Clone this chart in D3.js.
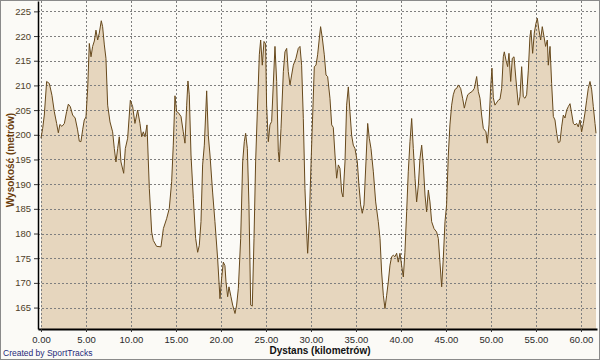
<!DOCTYPE html>
<html>
<head>
<meta charset="utf-8">
<script src="https://cdnjs.cloudflare.com/ajax/libs/d3/7.8.5/d3.min.js"></script>
<style>
    body { margin: 0; background: #fff; }
    svg { display: block; }
</style>
</head>
<body>
<div id="chart"></div>
<script>
'use strict';

// distance along the route (km)
var distances = [
    0, 0.19, 0.37, 0.63, 0.93, 1.22, 1.48, 1.74, 1.93, 2.1, 2.33, 2.6, 2.85, 3.04, 3.26, 3.52, 3.8, 4.07, 4.26, 4.44,
    4.63, 4.81, 5.0, 5.19, 5.37, 5.56, 5.74, 5.93, 6.11, 6.3, 6.48, 6.7, 6.85, 7.04, 7.22, 7.41, 7.67, 7.96, 8.15, 8.33,
    8.52, 8.7, 8.89, 9.19, 9.37, 9.63, 9.93, 10.19, 10.44, 10.74, 11.0, 11.19, 11.37, 11.56, 11.78, 12.04, 12.3, 12.48, 12.85, 13.33,
    13.6, 13.96, 14.26, 14.52, 14.7, 14.89, 15.07, 15.26, 15.56, 15.81, 16.0, 16.19, 16.33, 16.48, 16.67, 16.93, 17.19, 17.41, 17.59, 17.78,
    17.96, 18.15, 18.41, 18.59, 18.78, 19.07, 19.33, 19.63, 19.89, 20.07, 20.26, 20.44, 20.56, 20.74, 20.89, 21.11, 21.3, 21.56, 21.74, 21.93,
    22.19, 22.41, 22.59, 22.74, 22.93, 23.11, 23.3, 23.48, 23.67, 23.85, 24.04, 24.26, 24.41, 24.59, 24.78, 24.96, 25.07, 25.26, 25.44, 25.63,
    25.81, 26.0, 26.19, 26.37, 26.48, 26.67, 26.93, 27.11, 27.3, 27.48, 27.67, 27.85, 28.04, 28.33, 28.59, 28.78, 28.96, 29.15, 29.33, 29.52,
    29.63, 29.81, 30.0, 30.19, 30.37, 30.56, 30.74, 30.93, 31.07, 31.26, 31.48, 31.67, 31.85, 32.11, 32.3, 32.48, 32.67, 32.85, 33.04, 33.22,
    33.41, 33.56, 33.78, 33.96, 34.15, 34.33, 34.52, 34.7, 34.89, 35.15, 35.33, 35.52, 35.7, 35.89, 36.11, 36.3, 36.48, 36.67, 36.93, 37.19,
    37.48, 37.67, 37.85, 38.04, 38.22, 38.41, 38.59, 38.78, 38.96, 39.15, 39.33, 39.52, 39.7, 39.89, 40.07, 40.26, 40.44, 40.63, 40.81, 41.0,
    41.19, 41.37, 41.56, 41.74, 41.93, 42.11, 42.3, 42.48, 42.67, 42.85, 43.04, 43.22, 43.41, 43.67, 43.96, 44.15, 44.33, 44.52, 44.7, 44.89,
    45.07, 45.26, 45.44, 45.63, 45.81, 46.0, 46.19, 46.37, 46.63, 46.85, 47.04, 47.22, 47.41, 47.67, 47.93, 48.15, 48.41, 48.59, 48.78, 48.96,
    49.15, 49.44, 49.59, 49.78, 49.96, 50.11, 50.26, 50.44, 50.81, 51.0, 51.19, 51.37, 51.48, 51.67, 51.85, 52.0, 52.19, 52.37, 52.56, 52.78,
    53.04, 53.22, 53.41, 53.59, 53.78, 53.96, 54.15, 54.33, 54.44, 54.63, 54.81, 55.0, 55.15, 55.33, 55.52, 55.7, 55.89, 56.07, 56.26, 56.37,
    56.56, 56.74, 56.93, 57.11, 57.3, 57.48, 57.67, 57.85, 58.04, 58.22, 58.41, 58.59, 58.78, 58.96, 59.15, 59.33, 59.52, 59.7, 59.89, 60.07,
    60.26, 60.44, 60.63, 60.81, 61.0, 61.19, 61.37, 61.56, 61.67
];

// elevation (m)
var elevations = [
    199.3, 201.3, 204, 210.8, 210.4, 208, 204.7, 202.3, 200.4, 202.1, 201.7, 202.3, 204.7, 206.2, 205.7, 204, 203.4, 201, 198.7, 198.6,
    201, 203, 203.6, 209.4, 218.5, 215.8, 217.9, 219, 221.2, 219.2, 220.6, 223.1, 221.9, 218.2, 215.5, 206, 202.6, 200.6, 197.2, 194.5,
    197.2, 199.6, 194.5, 192.2, 197.2, 199.3, 207, 205.7, 202.3, 205, 202.3, 199.6, 200.6, 199.6, 202, 189.1, 180.3, 178.6, 177.4, 177.3,
    181, 183, 185.1, 190.5, 197.9, 207.9, 204.7, 204.5, 203.7, 200.6, 198.3, 206, 210.9, 208.1, 195.9, 187.1, 179, 176.2, 177.6, 182.4,
    193.9, 197.9, 208.9, 199.9, 195.9, 188.4, 182.4, 174.9, 166.8, 170.9, 174.2, 173.5, 170.2, 167.2, 169.2, 167.2, 165.5, 163.8, 165.5, 168.9,
    179, 194.5, 198.6, 200.3, 197.2, 185.8, 165.5, 165.3, 179, 194.5, 204.7, 216.2, 219.2, 214.1, 218.9, 218.4, 206, 198.6, 202, 202.7,
    210.1, 217.9, 210.8, 196.6, 194.5, 201.3, 212.8, 216.8, 217.5, 212.8, 210.1, 212.1, 214.1, 215.5, 217.5, 217.9, 214.1, 203.3, 189.1, 180.3,
    176, 182.4, 193.9, 204, 213.8, 214.1, 216.2, 219.6, 221.9, 219.6, 216.2, 212.1, 211.8, 207.4, 202, 201.5, 195.9, 191.2, 193.9, 193.2,
    188.4, 187.4, 194.5, 206, 209.7, 204.7, 199.9, 197.9, 197.2, 194.5, 189.8, 185.8, 184.1, 185.8, 194.5, 202.3, 199.3, 197.2, 192.5, 186.4,
    182.4, 179, 172.2, 167.5, 164.8, 167.5, 170.2, 173.6, 175.3, 175.6, 175.3, 176, 174.2, 176, 173.6, 171.2, 176.2, 184.4, 192.5, 198.6,
    203.3, 197.2, 191.2, 186.4, 189.8, 195.2, 197.9, 193.9, 187.8, 184.4, 188.8, 186.4, 182.4, 181, 180.3, 179, 174.2, 169.2, 174.9, 182.4,
    185.8, 195.9, 202, 206, 208.1, 209.2, 209.4, 210.1, 209.4, 207.4, 205.4, 206.8, 208.1, 208.5, 208.8, 209.4, 211.8, 208.8, 207.4, 204,
    201.3, 200.6, 198.3, 202, 209.4, 213.5, 207.5, 206, 207, 207.2, 209.4, 215.8, 216.8, 215.1, 213.8, 216.5, 210.8, 215.5, 215.8, 211.1,
    206, 207.7, 213.8, 207.7, 207.4, 208.1, 213.1, 219.9, 221.2, 216.5, 220.6, 222.6, 223.6, 221.2, 219.2, 221.9, 219.9, 217.9, 219.2, 214.1,
    217.9, 210.4, 203.7, 203, 200.3, 198.4, 198.6, 201.6, 204, 203.4, 205, 205.7, 206.3, 204.4, 202.3, 202, 202.3, 201.6, 203, 200.6,
    202.3, 204.4, 207, 209.4, 210.8, 209.1, 205.7, 202.3, 200.3
];

var xTicks = [0, 5, 10, 15, 20, 25, 30, 35, 40, 45, 50, 55, 60];
var yTicks = [165, 170, 175, 180, 185, 190, 195, 200, 205, 210, 215, 220, 225];

var xTitle = 'Dystans (kilometrów)';
var yTitle = 'Wysokość (metrów)';
var credit = 'Created by SportTracks';

var width = 600,
    height = 360;

var plot = { left: 38, right: 597, top: 1, bottom: 329 };

var points = distances.map(function (d, i) {
    return { km: d, ele: elevations[i] };
});

var x = d3.scaleLinear()
    .domain([-0.33, 61.78])
    .range([plot.left, plot.right]);
var y = d3.scaleLinear()
    .domain([160.66, 227.1])
    .range([plot.bottom, plot.top]);

var svg = d3.select('#chart').append('svg')
    .attr('width', width)
    .attr('height', height);

svg.append('rect')
    .attr('x', 0.5).attr('y', 0.5)
    .attr('width', width - 1).attr('height', height - 1)
    .attr('fill', '#fbfaf6')
    .attr('stroke', '#8a8a8a');

svg.append('clipPath').attr('id', 'plot-clip')
    .append('rect')
    .attr('x', plot.left).attr('y', plot.top)
    .attr('width', plot.right - plot.left).attr('height', plot.bottom - plot.top);

var body = svg.append('g').attr('clip-path', 'url(#plot-clip)');

var area = d3.area()
    .x(function (d) { return x(d.km); })
    .y0(plot.bottom)
    .y1(function (d) { return y(d.ele); });

var line = d3.line()
    .x(function (d) { return x(d.km); })
    .y(function (d) { return y(d.ele); });

body.append('path')
    .datum(points)
    .attr('d', area)
    .attr('fill', '#e6d6be');

// grid sits over the fill, like the original
body.selectAll('line.hgrid').data(yTicks).enter().append('line')
    .attr('class', 'hgrid')
    .attr('x1', plot.left).attr('x2', plot.right)
    .attr('y1', function (d) { return Math.round(y(d)) + 0.5; })
    .attr('y2', function (d) { return Math.round(y(d)) + 0.5; })
    .attr('stroke', '#7f7f7f')
    .attr('stroke-dasharray', '2,2');

body.selectAll('line.vgrid').data(xTicks).enter().append('line')
    .attr('class', 'vgrid')
    .attr('y1', plot.top).attr('y2', plot.bottom)
    .attr('x1', function (d) { return Math.round(x(d)) + 0.5; })
    .attr('x2', function (d) { return Math.round(x(d)) + 0.5; })
    .attr('stroke', '#7f7f7f')
    .attr('stroke-dasharray', '2,2');

body.append('path')
    .datum(points)
    .attr('d', line)
    .attr('fill', 'none')
    .attr('stroke', '#67491c')
    .attr('stroke-width', 1)
    .attr('stroke-linejoin', 'round');

// axes
var xAxis = svg.append('g')
    .attr('transform', 'translate(0,' + plot.bottom + ')')
    .call(d3.axisBottom(x)
        .tickValues(xTicks)
        .tickFormat(d3.format('.2f'))
        .tickSize(3)
        .tickSizeOuter(0)
        .tickPadding(4));
xAxis.select('.domain').attr('stroke', '#000').attr('stroke-width', 2);
xAxis.selectAll('.tick line').attr('stroke', '#333');
xAxis.selectAll('.tick text')
    .attr('font-family', 'Liberation Sans, Arial, sans-serif')
    .attr('font-size', 9.5)
    .attr('fill', '#2a2a2a');

var yAxis = svg.append('g')
    .attr('transform', 'translate(' + plot.left + ',0)')
    .call(d3.axisLeft(y)
        .tickValues(yTicks)
        .tickSize(4)
        .tickSizeOuter(0)
        .tickPadding(3));
yAxis.select('.domain').attr('stroke', '#000').attr('stroke-width', 1.5);
yAxis.selectAll('.tick line').attr('stroke', '#333');
yAxis.selectAll('.tick text')
    .attr('font-family', 'Liberation Sans, Arial, sans-serif')
    .attr('font-size', 9.5)
    .attr('fill', '#4e4028');

svg.append('text')
    .attr('x', 320).attr('y', 354)
    .attr('text-anchor', 'middle')
    .attr('font-family', 'Liberation Sans, Arial, sans-serif')
    .attr('font-weight', 'bold')
    .attr('font-size', 10)
    .attr('fill', '#111')
    .text(xTitle);

svg.append('text')
    .attr('transform', 'translate(14,160) rotate(-90)')
    .attr('text-anchor', 'middle')
    .attr('font-family', 'Liberation Sans, Arial, sans-serif')
    .attr('font-weight', 'bold')
    .attr('font-size', 10)
    .attr('fill', '#6a3c0c')
    .text(yTitle);

svg.append('text')
    .attr('x', 3).attr('y', 356)
    .attr('font-family', 'Liberation Sans, Arial, sans-serif')
    .attr('font-size', 8.5)
    .attr('fill', '#1f2a7a')
    .text(credit);
</script>
</body>
</html>
